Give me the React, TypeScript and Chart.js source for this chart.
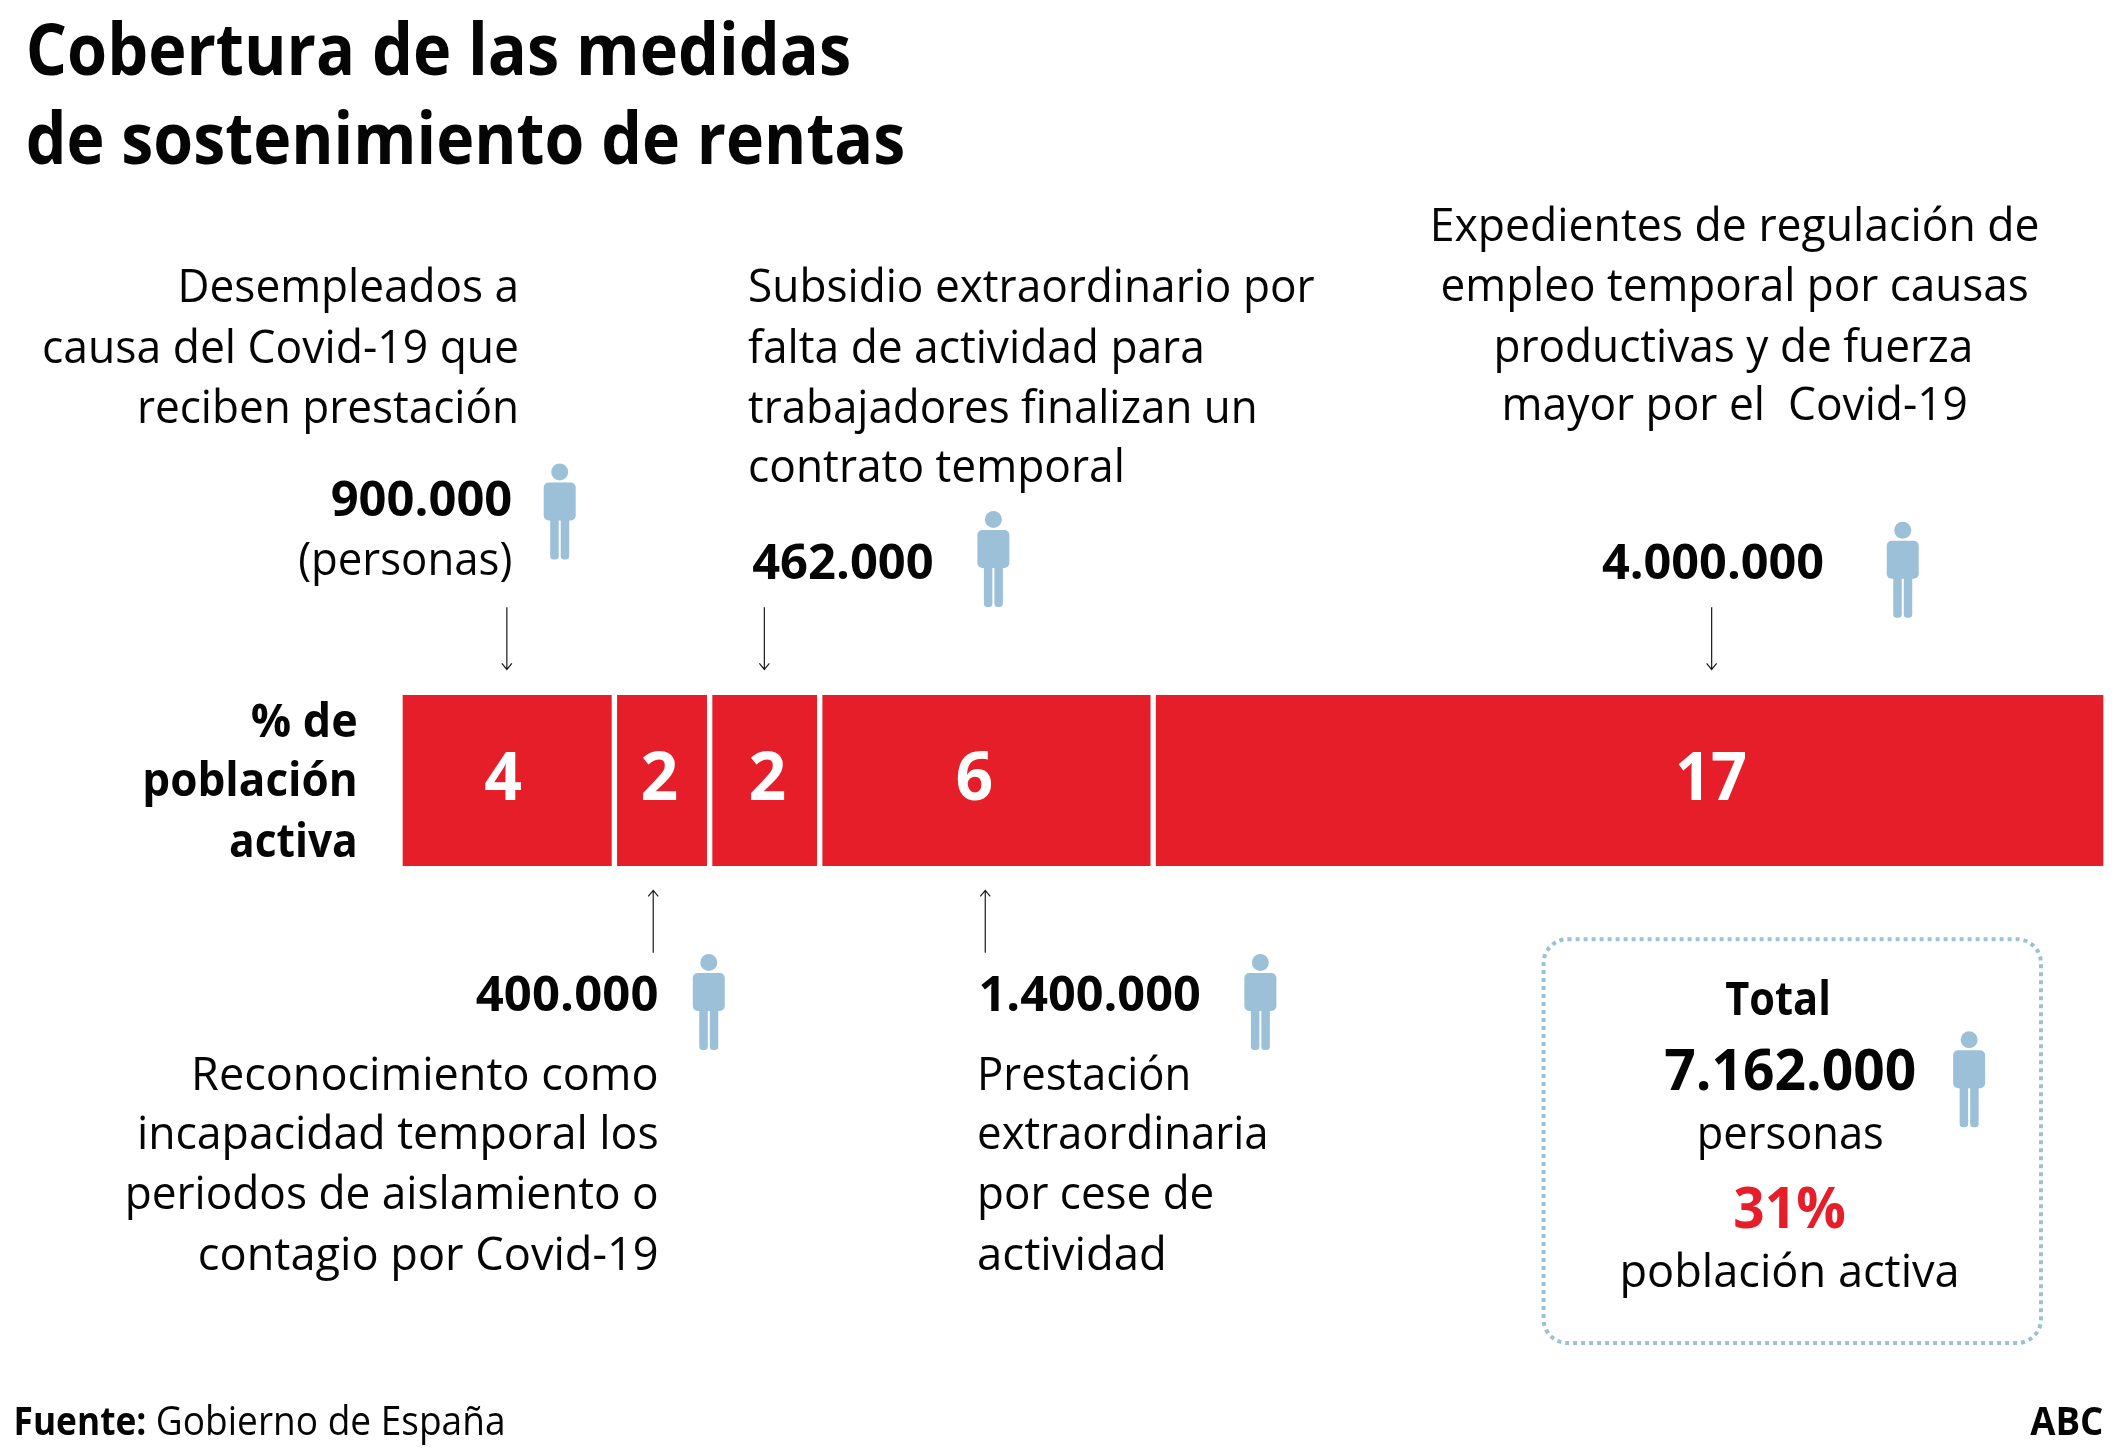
import React, { useEffect, useRef } from "react";
import { Chart, registerables } from "chart.js";

Chart.register(...registerables);

// ---- data -------------------------------------------------------------
const categories = ["% de población activa"];
const schemes = ["Desempleados", "Incapacidad temporal", "Subsidio temporal", "Cese de actividad", "ERTE"];
const personas = [900000, 400000, 462000, 1400000, 4000000];
const pctLabels = ["4", "2", "2", "6", "17"];
const totalPersonas = "7.162.000";
const totalPct = "31%";

// ---- layout (reference-image units scaled by S) -------------------------
const S = 2125 / 1568;
const RED = "#e51e2a";
const BLUE = "#9bc0d7";
const INK = "#050505";
const FONT = '"Open Sans", "Noto Sans", sans-serif';

const labelOffsets = [-3, -2, 2, -9, 60];
const arrowDirs = ["down", "up", "down", "up", "down"];

type Line = [string, number, number, number, number, string?, string?];
// text, left, right, baseline, font size, weight, colour
const reg = 46;
const sb = 49;
const lines: Line[] = [
  ["Cobertura de las medidas", 19, 628, 55, 71, "700"],
  ["de sostenimiento de rentas", 19, 668, 121, 71, "700"],
  ["Desempleados a", 131, 383, 223, reg],
  ["causa del Covid-19 que", 31, 383, 268, reg],
  ["reciben prestación", 101, 383, 312, reg],
  ["900.000", 244, 378, 381, sb, "700"],
  ["(personas)", 220, 378, 424, reg],
  ["Subsidio extraordinario por", 552, 970, 223, reg],
  ["falta de actividad para", 552, 889, 268, reg],
  ["trabajadores finalizan un", 552, 928, 312, reg],
  ["contrato temporal", 552, 830, 356, reg],
  ["462.000", 555, 689, 427, sb, "700"],
  ["Expedientes de regulación de", 1055, 1505, 178, reg],
  ["empleo temporal por causas", 1063, 1497, 222, reg],
  ["productivas y de fuerza", 1102, 1456, 267, reg],
  ["mayor por el  Covid-19", 1108, 1452, 310, reg],
  ["4.000.000", 1182, 1346, 427, sb, "700"],
  ["% de", 185, 264, 544, 47, "700"],
  ["población", 105, 264, 587, 47, "700"],
  ["activa", 169, 264, 632, 47, "700"],
  ["400.000", 351, 486, 746, sb, "700"],
  ["Reconocimiento como", 141, 486, 804, reg],
  ["incapacidad temporal los", 101, 486, 848, reg],
  ["periodos de aislamiento o", 92, 486, 892, reg],
  ["contagio por Covid-19", 146, 486, 937, reg],
  ["1.400.000", 722, 886, 746, sb, "700"],
  ["Prestación", 721, 879, 804, reg],
  ["extraordinaria", 721, 936, 848, reg],
  ["por cese de", 721, 896, 892, reg],
  ["actividad", 721, 861, 937, reg],
  ["Total", 1273, 1351, 749, 47, "700"],
  [totalPersonas, 1228, 1414, 804, 57, "700"],
  ["personas", 1252, 1390, 848, reg],
  [totalPct, 1279, 1362, 906, 57, "700", RED],
  ["población activa", 1195, 1446, 950, reg],
  ["Fuente:", 10, 108, 1059, 40, "700"],
  ["Gobierno de España", 115, 373, 1059, 40],
  ["ABC", 1498, 1552, 1059, 40, "700"],
];

const people: [number, number][] = [
  [413, 342], [733, 377], [1404, 385], [523, 704], [930, 704], [1453, 761],
];
const arrowX = [374, 482, 564, 727, 1263];

function drawText(ctx: CanvasRenderingContext2D, l: Line) {
  const [text, x0, x1, b, size, weight, color] = l;
  const target = (x1 - x0) * S;
  ctx.font = `${weight || "400"} ${size}px ${FONT}`;
  ctx.fillStyle = color || INK;
  ctx.textAlign = "left";
  ctx.textBaseline = "alphabetic";
  const natural = ctx.measureText(text).width;
  if (natural > target) {
    (ctx as any).letterSpacing = "0px";
    ctx.fillText(text, x0 * S, b * S, target);
  } else {
    (ctx as any).letterSpacing = `${(target - natural) / text.length}px`;
    ctx.fillText(text, x0 * S, b * S);
    (ctx as any).letterSpacing = "0px";
  }
}

function drawPerson(ctx: CanvasRenderingContext2D, cx: number, top: number) {
  ctx.fillStyle = BLUE;
  ctx.beginPath();
  ctx.arc(cx, top + 8.5, 8.5, 0, Math.PI * 2);
  ctx.fill();
  ctx.beginPath();
  ctx.roundRect(cx - 16, top + 19, 32, 38, 5);
  ctx.fill();
  ctx.beginPath();
  ctx.roundRect(cx - 9.5, top + 50, 8.5, 46, 3.5);
  ctx.roundRect(cx + 1, top + 50, 8.5, 46, 3.5);
  ctx.fill();
}

function drawArrow(ctx: CanvasRenderingContext2D, x: number, y0: number, y1: number) {
  const dir = y1 > y0 ? 1 : -1;
  ctx.strokeStyle = "#1a1a1a";
  ctx.lineWidth = 1.2;
  ctx.beginPath();
  ctx.moveTo(x, y0);
  ctx.lineTo(x, y1);
  ctx.moveTo(x - 5, y1 - dir * 6);
  ctx.lineTo(x, y1);
  ctx.lineTo(x + 5, y1 - dir * 6);
  ctx.stroke();
}

const annotations = {
  id: "annotations",
  afterDraw(chart: any) {
    const ctx: CanvasRenderingContext2D = chart.ctx;
    ctx.save();
    const { top, bottom } = chart.chartArea;
    const midY = (top + bottom) / 2;
    const xScale = chart.scales.x;

    // percent labels inside the segments, arrows above / below them
    let acc = 0;
    personas.forEach((v, i) => {
      const c = xScale.getPixelForValue(acc + v / 2);
      acc += v;
      ctx.font = `700 66px ${FONT}`;
      ctx.fillStyle = "#ffffff";
      ctx.textAlign = "center";
      ctx.textBaseline = "alphabetic";
      ctx.fillText(pctLabels[i], c + labelOffsets[i] * S, midY + 19, i === 4 ? 72 : 38);
      const x = arrowX[i] * S;
      if (arrowDirs[i] === "down") drawArrow(ctx, x, 448 * S, 494 * S);
      else drawArrow(ctx, x, 703 * S, 657 * S);
    });

    lines.forEach((l) => drawText(ctx, l));
    people.forEach(([cx, t]) => drawPerson(ctx, cx * S, t * S));

    // total box
    ctx.strokeStyle = BLUE;
    ctx.lineWidth = 4;
    ctx.setLineDash([4, 4]);
    ctx.beginPath();
    ctx.roundRect(1139 * S, 693 * S, 367 * S, 298 * S, 24);
    ctx.stroke();
    ctx.setLineDash([]);
    ctx.restore();
  },
};

export default function App() {
  const ref = useRef<HTMLCanvasElement>(null);
  useEffect(() => {
    document.body.style.margin = "0";
    const chart = new Chart(ref.current!, {
      type: "bar",
      data: {
        labels: categories,
        datasets: personas.map((v, i) => ({
          label: schemes[i],
          data: [v],
          backgroundColor: RED,
          borderColor: "#ffffff",
          borderWidth: { left: 3, right: 3, top: 0, bottom: 0 },
          borderSkipped: false,
          barPercentage: 1,
          categoryPercentage: 1,
          stack: "s",
        })),
      },
      options: {
        indexAxis: "y",
        responsive: false,
        animation: false,
        layout: { padding: { left: 400, right: 19, top: 695, bottom: 589 } },
        plugins: { legend: { display: false }, title: { display: false }, tooltip: { enabled: false } },
        scales: {
          x: { display: false, stacked: true, min: 0, max: 7162000 },
          y: { display: false, stacked: true },
        },
      },
      plugins: [annotations],
    } as any);
    return () => chart.destroy();
  }, []);
  return <canvas ref={ref} width={2125} height={1455} style={{ display: "block", background: "#fff" }} />;
}
